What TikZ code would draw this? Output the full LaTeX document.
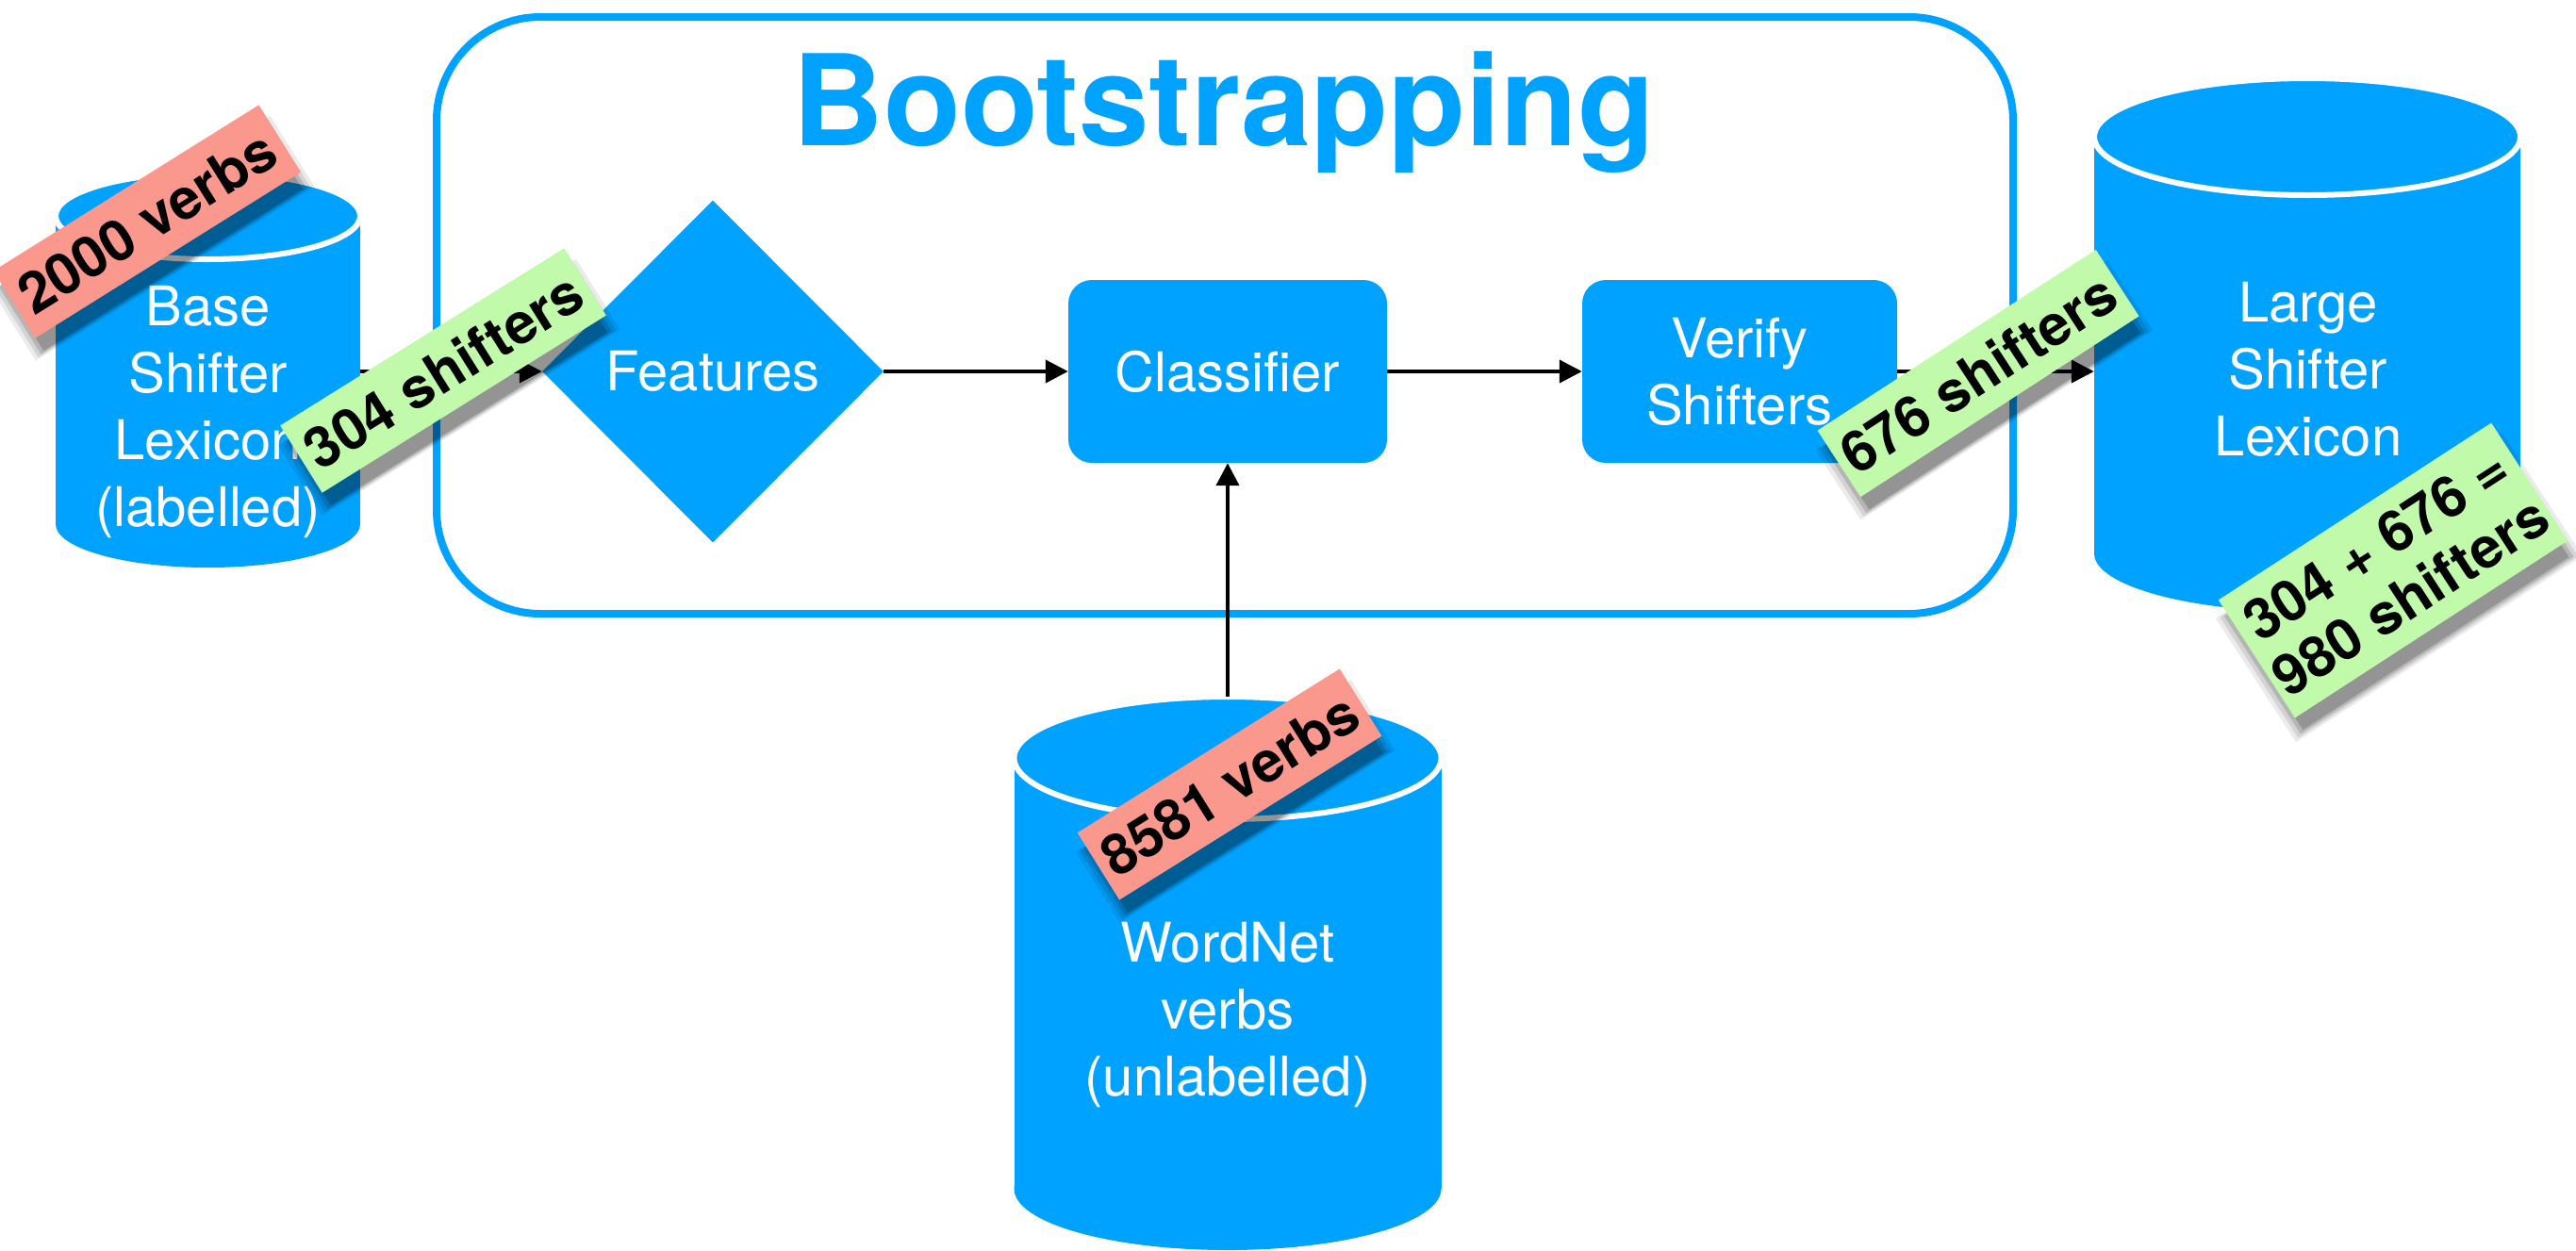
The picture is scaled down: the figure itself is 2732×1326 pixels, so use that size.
\documentclass[tikz,border=0pt]{standalone}
\usepackage{fontspec}
\setmainfont{TeX Gyre Heros}
\usetikzlibrary{arrows.meta,shapes.geometric,shadows}
\definecolor{dbblue}{RGB}{0,162,255}
\definecolor{tagred}{RGB}{250,152,142}
\definecolor{taggreen}{RGB}{194,250,172}
\newcommand\bodyfont{\fontsize{58}{71}\selectfont}
\newcommand\tagfont{\fontsize{60}{66}\selectfont\bfseries}
\newcommand\titlefont{\fontsize{134}{150}\selectfont\bfseries}
% cylinder: name, cx, y of top ellipse centre, y of bottom ellipse centre, half width, half height of ellipse
\newcommand\dbcyl[6]{%
  \fill[dbblue] ({#2-#5},#3) rectangle ({#2+#5},#4);
  \fill[dbblue] (#2,#4) ellipse [x radius=#5pt, y radius=#6pt];
  \filldraw[fill=dbblue, draw=white, line width=6pt] (#2,#3) ellipse [x radius=#5pt, y radius=#6pt];
  \node[inner sep=0pt, minimum width={2*#5}, minimum height={#4-#3+2*#6}] (#1) at (#2,{(#3+#4)/2}) {};
}
\begin{document}
\begin{tikzpicture}[x=1pt,y=-1pt,
  proc/.style={fill=dbblue, text=white, font=\bodyfont, rounded corners=25pt,
    minimum height=194, inner sep=0pt, align=center},
  flow/.style={line width=4pt, -{Triangle[length=24pt,width=24pt]}},
  cyltext/.style={text=white, font=\bodyfont, align=center, inner sep=0pt},
  shadowed/.style={
    drop shadow={fill=black, opacity=0.08, shadow xshift=6pt, shadow yshift=-17pt, shadow scale=1.05},
    drop shadow={fill=black, opacity=0.10, shadow xshift=6pt, shadow yshift=-17pt, shadow scale=1.025},
    drop shadow={fill=black, opacity=0.14, shadow xshift=6pt, shadow yshift=-17pt, shadow scale=1.0},
    drop shadow={fill=black, opacity=0.18, shadow xshift=6pt, shadow yshift=-17pt, shadow scale=0.975}},
  tag/.style={shadowed, inner sep=0pt, minimum height=84, font=\tagfont, align=center, text=black},
]
\clip (0,0) rectangle (2732,1326);

% cylinders
\dbcyl{base}{220.5}{229}{556}{161.5}{46}
\dbcyl{large}{2447}{145}{587}{226}{62}
\dbcyl{wn}{1302}{804}{1261}{226.5}{65}
\node[cyltext] (basetxt) at (220.5,437) {Base\\Shifter\\Lexicon\\(labelled)};
\node[cyltext] (largetxt) at (2448,391.5) {Large\\Shifter\\Lexicon};
\node[cyltext] (wntxt) at (1302,1076) {WordNet\\verbs\\(unlabelled)};

% bootstrapping frame
\node[draw=dbblue, line width=8pt, rounded corners=110pt, minimum width=1672,
  minimum height=633, inner sep=0pt] (boot) at (1299,334.5) {};
\node[font=\titlefont, text=dbblue, anchor=base, inner sep=0pt] (title) at (1298,154) {Bootstrapping};

% process nodes
\node[diamond, aspect=1, fill=dbblue, text=white, font=\bodyfont, minimum width=362,
  minimum height=363, inner sep=0pt] (feat) at (756,394) {Features};
\node[proc, minimum width=338] (cls) at (1302,394) {Classifier};
\node[proc, minimum width=334] (ver) at (1845,394) {Verify\\Shifters};

% connectors
\draw[flow] (base.east |- feat.west) -- (feat.west);
\draw[flow] (feat.east) -- (cls.west);
\draw[flow] (cls.east) -- (ver.west);
\draw[flow] (ver.east) -- (large.west |- ver.east);
\draw[flow] (wn.north) -- (cls.south);

% sticky labels
\node[tag, fill=tagred, minimum width=332, rotate=32] (t2000) at (156,235) {2000 verbs};
\node[tag, fill=taggreen, minimum width=355, rotate=32] (t304) at (470,393) {304 shifters};
\node[tag, fill=taggreen, minimum width=352, rotate=33] (t676) at (2098,396) {676 shifters};
\node[tag, fill=tagred, minimum width=328, rotate=32] (t8581) at (1304,832) {8581 verbs};
\node[tag, fill=taggreen, minimum width=345, minimum height=149, rotate=33] (t980) at (2538,605) {304 + 676 =\\980 shifters};
\end{tikzpicture}
\end{document}
